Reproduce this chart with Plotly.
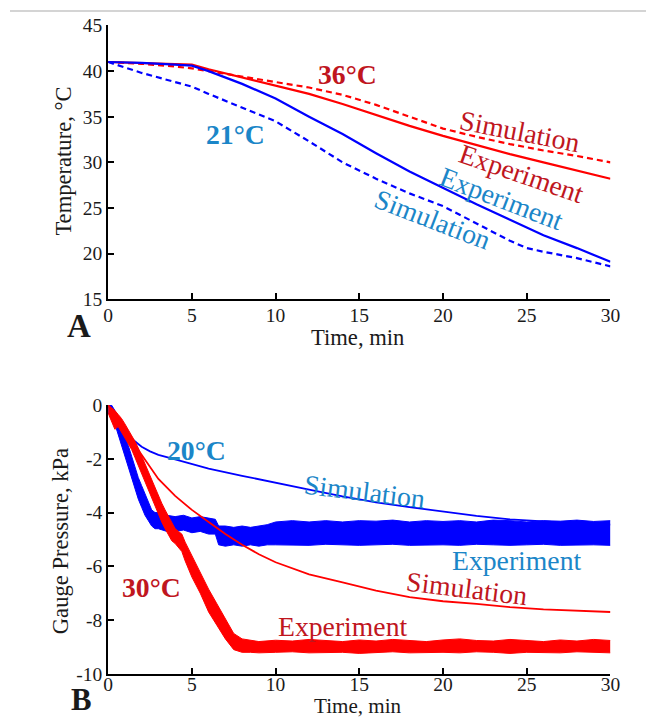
import plotly.graph_objects as go

W, H = 646, 728          # reference picture size
FW, FH = 664, 750        # figure size (the page is shown slightly reduced)

# ---------------- Panel A data (Temperature, °C vs time, min) ----------------
a_red_sim_t = [0, 2, 4, 5, 6, 8, 10, 12, 14, 16, 18, 20, 22, 24, 26, 28, 30]
a_red_sim_v = [41.0, 40.8, 40.5, 40.3, 40.0, 39.4, 38.8, 38.2, 37.4, 36.3, 35.0, 33.7, 32.8, 32.0, 31.3, 30.7, 30.0]

a_red_exp_t = [0, 2, 4, 5, 6, 8, 10, 12, 14, 16, 18, 20, 22, 24, 26, 28, 30]
a_red_exp_v = [41.0, 40.9, 40.8, 40.7, 40.2, 39.3, 38.4, 37.5, 36.4, 35.2, 34.0, 32.9, 31.9, 30.9, 30.0, 29.1, 28.2]

a_blue_exp_t = [0, 2, 4, 5, 6, 8, 10, 11, 12, 14, 16, 18, 20, 22, 24, 26, 28, 30]
a_blue_exp_v = [41.0, 40.9, 40.7, 40.6, 40.0, 38.6, 37.0, 36.0, 35.0, 33.1, 31.0, 29.0, 27.2, 25.4, 23.7, 22.0, 20.6, 19.1]

a_blue_sim_t = [0, 1, 2, 4, 5, 6, 8, 10, 12, 14, 16, 18, 20, 22, 24, 25, 26, 28, 30]
a_blue_sim_v = [41.0, 40.4, 39.8, 38.8, 38.3, 37.5, 36.0, 34.5, 32.3, 30.0, 28.2, 26.6, 25.2, 23.3, 21.4, 20.6, 20.2, 19.5, 18.6]

# ---------------- Panel B data (Gauge pressure, kPa vs time, min) ----------------
b_blue_exp_t = [0, 0.2, 0.4, 0.6, 0.8, 1.0, 1.2, 1.4, 1.6, 1.8, 2.0, 2.2, 2.4, 2.6, 2.8, 3.0,
                3.5, 4.0, 4.5, 5.0, 5.5, 6.0, 6.4, 6.6, 7.0, 7.5, 8.0, 8.5, 9.0, 9.5, 10,
                11, 12, 13, 14, 15, 16, 17, 18, 19, 20, 21, 22, 23, 24, 25, 26, 27, 28, 29, 30]
b_blue_exp_hi = [0.0, 0.0, -0.2, -0.5, -0.8, -1.1, -1.5, -1.9, -2.3, -2.7, -3.0, -3.3, -3.6, -3.9, -4.0, -4.0,
                 -4.1, -4.15, -4.1, -4.2, -4.15, -4.2, -4.25, -4.5, -4.5, -4.55, -4.5, -4.55, -4.5, -4.45, -4.35,
                 -4.3, -4.35, -4.3, -4.35, -4.3, -4.32, -4.28, -4.35, -4.3, -4.33, -4.3, -4.35, -4.28, -4.3, -4.35, -4.3, -4.32, -4.28, -4.33, -4.3]
b_blue_exp_lo = [-0.3, -0.4, -0.7, -1.1, -1.5, -1.9, -2.3, -2.7, -3.1, -3.5, -3.8, -4.1, -4.3, -4.5, -4.6, -4.6,
                 -4.7, -4.7, -4.65, -4.75, -4.7, -4.8, -4.8, -5.2, -5.25, -5.2, -5.25, -5.2, -5.25, -5.2, -5.2,
                 -5.2, -5.22, -5.18, -5.2, -5.22, -5.2, -5.18, -5.22, -5.2, -5.2, -5.22, -5.18, -5.2, -5.22, -5.2, -5.18, -5.22, -5.2, -5.2, -5.22]

b_blue_sim_t = [0, 0.5, 1, 1.5, 2, 2.5, 3, 4, 5, 6, 8, 10, 12, 14, 16, 18, 20, 22, 24, 26, 28, 30]
b_blue_sim_v = [0.0, -0.5, -0.95, -1.3, -1.55, -1.72, -1.85, -2.02, -2.2, -2.36, -2.63, -2.9, -3.15, -3.4,
                -3.62, -3.8, -3.97, -4.12, -4.25, -4.33, -4.4, -4.45]

b_red_exp_t = [0, 0.2, 0.4, 0.6, 0.8, 1.0, 1.2, 1.4, 1.6, 1.8, 2.0, 2.2, 2.4, 2.6, 2.8, 3.0, 3.2, 3.4, 3.6, 3.8,
               4.0, 4.2, 4.4, 4.6, 4.8, 5.0, 5.5, 6.0, 6.5, 7.0, 7.5, 8.0, 8.5, 9, 10,
               11, 12, 13, 14, 15, 16, 17, 18, 19, 20, 21, 22, 23, 24, 25, 26, 27, 28, 29, 30]
b_red_exp_hi = [0.0, -0.1, -0.2, -0.35, -0.5, -0.7, -0.9, -1.1, -1.35, -1.6, -1.9, -2.2, -2.5, -2.8, -3.1, -3.4, -3.65, -3.9, -4.15, -4.4,
                -4.6, -4.7, -4.8, -5.1, -5.35, -5.6, -6.2, -6.85, -7.4, -7.95, -8.5, -8.7, -8.75, -8.8, -8.75,
                -8.78, -8.72, -8.76, -8.8, -8.74, -8.78, -8.72, -8.76, -8.8, -8.74, -8.7, -8.76, -8.78, -8.72, -8.76, -8.8, -8.74, -8.78, -8.72, -8.76]
b_red_exp_lo = [-0.3, -0.6, -0.9, -0.8, -1.0, -1.2, -1.4, -1.65, -1.95, -2.25, -2.6, -2.9, -3.2, -3.5, -3.8, -4.1, -4.35, -4.6, -4.85, -5.05,
                -5.15, -5.3, -5.45, -5.8, -6.1, -6.4, -7.0, -7.7, -8.2, -8.7, -9.1, -9.2, -9.2, -9.22, -9.2,
                -9.18, -9.22, -9.2, -9.2, -9.24, -9.2, -9.18, -9.22, -9.2, -9.2, -9.22, -9.18, -9.2, -9.24, -9.2, -9.2, -9.22, -9.18, -9.2, -9.22]

b_red_sim_t = [0, 0.5, 1, 1.5, 2, 2.5, 3, 4, 5, 6, 7, 8, 9, 10, 12, 14, 16, 18, 20, 22, 24, 26, 28, 30]
b_red_sim_v = [0.0, -0.5, -0.95, -1.4, -1.85, -2.3, -2.75, -3.38, -3.9, -4.35, -4.8, -5.2, -5.55, -5.85,
               -6.3, -6.6, -6.9, -7.15, -7.3, -7.4, -7.52, -7.6, -7.66, -7.7]

x_ticks = [0, 5, 10, 15, 20, 25, 30]
a_y_ticks = [15, 20, 25, 30, 35, 40, 45]
b_y_ticks = [-10, -8, -6, -4, -2, 0]
b_y_ticktext = ["-10", "-8", "-6", "-4", "-2", "0"]

RED = "#ff0000"
BLUE = "#0000ff"
RED_TXT = "#c0161e"
BLUE_TXT = "#1b86c8"
FONT = "Liberation Serif"
TXT = "#1a1a1a"

# compensation for the observed rendering (picture = S * layout + offset)
S = 0.973
OX, OY = 4.0, 8.5
def ix(px):
    return (px - OX) / S
def iy(py):
    return (py - OY) / S
def fs(size):
    return round(size / S, 1)
def PX(px):
    return ix(px) / FW
def PY(py):
    return 1 - iy(py) / FH

fig = go.Figure()

# Panel A
fig.add_trace(go.Scatter(x=a_red_sim_t, y=a_red_sim_v, mode="lines", line=dict(color=RED, width=2.2, dash="6px,4px"),
                         xaxis="x", yaxis="y", showlegend=False))
fig.add_trace(go.Scatter(x=a_red_exp_t, y=a_red_exp_v, mode="lines", line=dict(color=RED, width=2.2),
                         xaxis="x", yaxis="y", showlegend=False))
fig.add_trace(go.Scatter(x=a_blue_exp_t, y=a_blue_exp_v, mode="lines", line=dict(color=BLUE, width=2.2),
                         xaxis="x", yaxis="y", showlegend=False))
fig.add_trace(go.Scatter(x=a_blue_sim_t, y=a_blue_sim_v, mode="lines", line=dict(color=BLUE, width=2.2, dash="6px,4px"),
                         xaxis="x", yaxis="y", showlegend=False))

# Panel B
fig.add_trace(go.Scatter(x=b_blue_exp_t, y=b_blue_exp_lo, mode="lines", line=dict(color=BLUE, width=1),
                         xaxis="x2", yaxis="y2", showlegend=False))
fig.add_trace(go.Scatter(x=b_blue_exp_t, y=b_blue_exp_hi, mode="lines", line=dict(color=BLUE, width=1),
                         fill="tonexty", fillcolor=BLUE, xaxis="x2", yaxis="y2", showlegend=False))
fig.add_trace(go.Scatter(x=b_blue_sim_t, y=b_blue_sim_v, mode="lines", line=dict(color=BLUE, width=1.8),
                         xaxis="x2", yaxis="y2", showlegend=False))
fig.add_trace(go.Scatter(x=b_red_exp_t, y=b_red_exp_lo, mode="lines", line=dict(color=RED, width=1),
                         xaxis="x2", yaxis="y2", showlegend=False))
fig.add_trace(go.Scatter(x=b_red_exp_t, y=b_red_exp_hi, mode="lines", line=dict(color=RED, width=1),
                         fill="tonexty", fillcolor=RED, xaxis="x2", yaxis="y2", showlegend=False))
fig.add_trace(go.Scatter(x=b_red_sim_t, y=b_red_sim_v, mode="lines", line=dict(color=RED, width=1.8),
                         xaxis="x2", yaxis="y2", showlegend=False))

axis_common = dict(showline=True, linecolor="black", linewidth=2, ticks="inside", ticklen=6, tickwidth=2,
                   tickcolor="black", showgrid=False, zeroline=False, mirror=False,
                   tickfont=dict(family=FONT, size=fs(19), color=TXT))

fig.update_layout(
    width=FW, height=FH, margin=dict(l=0, r=0, t=0, b=0),
    paper_bgcolor="white", plot_bgcolor="white",
    xaxis=dict(domain=[PX(106.7), PX(606.7)], range=[0, 30], tickvals=x_ticks, anchor="y",
               ticklabelstandoff=-3, **axis_common),
    yaxis=dict(domain=[PY(298), PY(24)], range=[15, 45], tickvals=a_y_ticks, anchor="x", **axis_common),
    xaxis2=dict(domain=[PX(106.7), PX(606.7)], range=[0, 30], tickvals=x_ticks, anchor="y2",
                ticklabelstandoff=-8, **axis_common),
    yaxis2=dict(domain=[PY(673), PY(404)], range=[-10, 0], tickvals=b_y_ticks, ticktext=b_y_ticktext,
                anchor="x2", **axis_common),
)

ann = []
def add_label(text, x, y, size, color=TXT, bold=False, angle=0):
    t = f"<b>{text}</b>" if bold else text
    ann.append(dict(text=t, x=PX(x), y=PY(y), xref="paper", yref="paper", showarrow=False,
                    xanchor="center", yanchor="middle", textangle=angle,
                    font=dict(family=FONT, size=fs(size), color=color)))

# axis titles & panel letters
add_label("Time, min", 355, 336, 22)
add_label("Time, min", 355, 705.5, 20.5)
add_label("Temperature, °C", 62, 160, 22, angle=-90)
add_label("Gauge Pressure, kPa", 60, 540, 22, angle=-90)
add_label("A", 78, 325, 32, bold=True)
add_label("B", 80, 699, 30, bold=True)

# Panel A curve labels
add_label("36°C", 345, 73, 27, RED_TXT, bold=True)
add_label("21°C", 233, 133, 27, BLUE_TXT, bold=True)
add_label("Simulation", 517, 130, 27, RED_TXT, angle=11)
add_label("Experiment", 518, 172, 27, RED_TXT, angle=19)
add_label("Experiment", 498, 197, 27, BLUE_TXT, angle=21)
add_label("Simulation", 430, 218, 27, BLUE_TXT, angle=21)

# Panel B curve labels
add_label("20°C", 195, 449, 27, BLUE_TXT, bold=True)
add_label("Simulation", 362, 490, 27, BLUE_TXT, angle=7)
add_label("Experiment", 513, 560, 27, BLUE_TXT)
add_label("Simulation", 464, 588, 27, RED_TXT, angle=7)
add_label("30°C", 150, 587, 27, RED_TXT, bold=True)
add_label("Experiment", 340, 626, 27, RED_TXT)

fig.update_layout(annotations=ann)

# thin grey rule at the top of the page
gy = min(PY(6), 1 - 1.0 / FH)
fig.add_shape(type="line", xref="paper", yref="paper", x0=PX(9), x1=1, y0=gy, y1=gy,
              line=dict(color="#d4d4d4", width=2))

fig.write_html("out.html", config={"displayModeBar": False},
               post_script="document.body.style.margin='0px';document.body.style.overflow='hidden';")
